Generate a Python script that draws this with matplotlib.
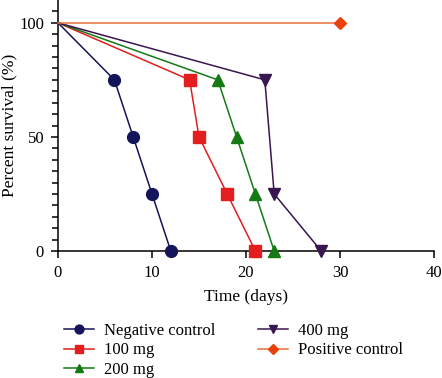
import numpy as np
import matplotlib.pyplot as plt

plt.rcParams['font.family'] = ['Liberation Serif', 'DejaVu Serif']

# survival data (time in days, percent survival)
negTime = [0, 6, 8, 10, 12]
negSurv = [100, 75, 50, 25, 0]
mg100Time = [0, 14, 15, 18, 21]
mg100Surv = [100, 75, 50, 25, 0]
mg200Time = [0, 17, 19, 21, 23]
mg200Surv = [100, 75, 50, 25, 0]
mg400Time = [0, 22, 23, 28]
mg400Surv = [100, 75, 25, 0]
posTime = [0, 30]
posSurv = [100, 100]

fig = plt.figure(figsize=(4.42, 3.78), dpi=100)
ax = fig.add_axes([58/442, 1 - 251/378, 376/442, 251/378])

ms = 8.5
ax.plot(negTime, negSurv, color='#14145a', marker='o', ms=ms, lw=1.1,
        markevery=list(range(1, len(negTime))), label='Negative control', clip_on=False, zorder=5)
ax.plot(mg100Time, mg100Surv, color='#e41e1e', marker='s', ms=ms-0.5, lw=1.1,
        markevery=list(range(1, len(mg100Time))), label='100 mg', clip_on=False, zorder=5)
ax.plot(mg200Time, mg200Surv, color='#157a15', marker='^', ms=ms, lw=1.1,
        markevery=list(range(1, len(mg200Time))), label='200 mg', clip_on=False, zorder=5)
ax.plot(mg400Time, mg400Surv, color='#3a1650', marker='v', ms=ms, lw=1.1,
        markevery=list(range(1, len(mg400Time))), label='400 mg', clip_on=False, zorder=5)
ax.plot(posTime, posSurv, color='#e8703a', marker='D', ms=ms-2, lw=1.1,
        mfc='#e8420f', mec='#e8420f',
        markevery=[1], label='Positive control', clip_on=False, zorder=5)

ax.set_xlim(0, 40)
ax.set_ylim(0, 110)
ax.set_xticks([0, 10, 20, 30, 40])
ax.set_yticks([0, 50, 100])
ax.set_yticks(np.arange(5, 110, 5), minor=True)
ax.spines['top'].set_visible(False)
ax.spines['right'].set_visible(False)
ax.spines['left'].set_linewidth(1.1)
ax.spines['bottom'].set_linewidth(1.1)
ax.tick_params(axis='both', which='major', length=5, width=1.1, labelsize=12, pad=5)
ax.tick_params(axis='y', which='minor', length=4, width=1.1)
ax.set_xlabel('Time (days)', fontsize=12.5, labelpad=6)
ax.set_ylabel('Percent survival (%)', fontsize=12.5)
ax.yaxis.set_label_coords(-0.108, 0.5)

fig.legend(loc='upper left', bbox_to_anchor=(57/442, 1 - 316/378), ncol=2,
           frameon=False, fontsize=12, markerscale=0.75, handlelength=1.8,
           handletextpad=0.6, columnspacing=2.6, labelspacing=0.22, borderaxespad=0)

plt.savefig('out.png', dpi=100)
